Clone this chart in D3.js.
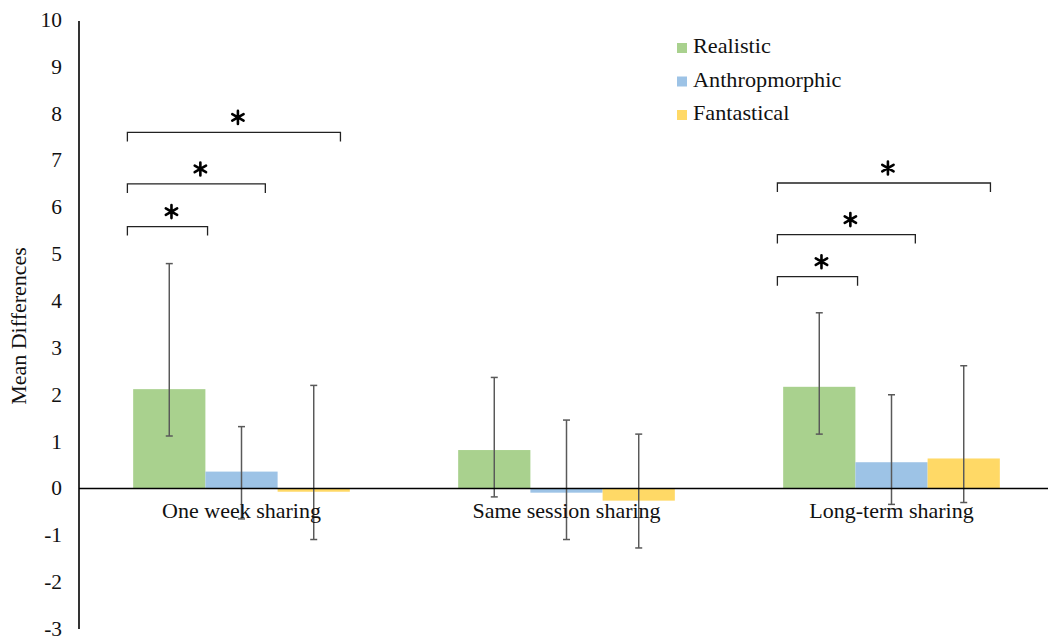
<!doctype html>
<html lang="en">
<head>
    <meta charset="UTF-8">
    <title>Mean Differences</title>
    <script src="https://cdnjs.cloudflare.com/ajax/libs/d3/7.8.5/d3.min.js"></script>
    <style>
        body { margin: 0; background: #fff; }
        text { font-family: "Liberation Serif", "Times New Roman", serif; fill: #111; }
    </style>
</head>
<body>
<svg id="chart" width="1048" height="639"></svg>

<script>
    // data
    var categories = ['One week sharing', 'Same session sharing', 'Long-term sharing'];
    var series = ['Realistic', 'Anthropmorphic', 'Fantastical'];
    var colors = ['#A9D18E', '#9DC3E6', '#FFD966'];

    var realistic = [2.12, 0.82, 2.17];
    var anthro = [0.36, -0.09, 0.56];
    var fantastical = [-0.07, -0.26, 0.64];

    var realisticLow = [1.12, -0.18, 1.16];
    var realisticHigh = [4.80, 2.37, 3.75];
    var anthroLow = [-0.65, -1.09, -0.34];
    var anthroHigh = [1.32, 1.46, 2.00];
    var fantasticalLow = [-1.09, -1.27, -0.30];
    var fantasticalHigh = [2.20, 1.16, 2.62];

    var yTicks = [-3, -2, -1, 0, 1, 2, 3, 4, 5, 6, 7, 8, 9, 10];

    // significance brackets (category index, height in y units)
    var bracketCat = [0, 0, 0, 2, 2, 2];
    var bracketLevel = [5.59, 6.50, 7.60, 4.52, 5.42, 6.52];

    var values = [realistic, anthro, fantastical];
    var lows = [realisticLow, anthroLow, fantasticalLow];
    var highs = [realisticHigh, anthroHigh, fantasticalHigh];

    var svg = d3.select('#chart');

    var y = d3.scaleLinear().domain([-3, 10]).range([629, 20]);
    var x0 = d3.scaleBand().domain(categories).range([79, 1054]);
    var bw = x0.bandwidth() / 4.5;
    var x1 = d3.scaleBand().domain(series).range([bw * 0.75, bw * 3.75]);

    // the original text is set a bit wider than Times, so stretch it horizontally
    function label(parent, x, yy, str, size, anchor, rot, sx) {
        return parent.append('text')
                .attr('transform', 'translate(' + x + ',' + yy + ')' + (rot ? ' rotate(' + rot + ')' : '') + ' scale(' + (sx || 1.1) + ',1)')
                .attr('text-anchor', anchor || 'start')
                .style('font-size', size + 'px')
                .text(str);
    }

    // y axis ticks
    var yAxis = d3.axisLeft(y).tickValues(yTicks).tickSize(0).tickPadding(0)
            .tickFormat(function (d) { return String(d); });
    var ga = svg.append('g').attr('transform', 'translate(79,0)').call(yAxis);
    ga.select('.domain').remove();
    ga.selectAll('text')
            .attr('x', 0)
            .attr('transform', 'translate(-17,0) scale(1.07,1)')
            .style('font-family', '"Liberation Serif", serif')
            .style('font-size', '20px')
            .attr('fill', '#111');

    svg.append('line')
            .attr('x1', 79).attr('x2', 79)
            .attr('y1', y(10) + 1).attr('y2', y(-3))
            .attr('stroke', '#000').attr('stroke-width', 1.6);

    label(svg, 26, 326, 'Mean Differences', 20, 'middle', -90);

    // bars
    var groups = svg.selectAll('g.cat')
            .data(categories)
            .enter().append('g')
            .attr('class', 'cat')
            .attr('transform', function (d) { return 'translate(' + x0(d) + ',0)'; });

    groups.each(function (c, ci) {
        var g = d3.select(this);
        series.forEach(function (s, si) {
            var v = values[si][ci];
            g.append('rect')
                    .attr('x', x1(s))
                    .attr('y', y(Math.max(0, v)))
                    .attr('width', x1.bandwidth())
                    .attr('height', Math.abs(y(v) - y(0)))
                    .attr('fill', colors[si]);
        });
    });

    // zero line
    svg.append('line')
            .attr('x1', 79).attr('x2', 1048)
            .attr('y1', y(0)).attr('y2', y(0))
            .attr('stroke', '#000').attr('stroke-width', 1.5);

    // category labels
    categories.forEach(function (c) {
        label(svg, x0(c) + x0.bandwidth() / 2, y(0) + 30, c, 20, 'middle');
    });

    // error bars
    groups.each(function (c, ci) {
        var g = d3.select(this);
        series.forEach(function (s, si) {
            var cx = x1(s) + x1.bandwidth() / 2;
            var lo = y(lows[si][ci]), hi = y(highs[si][ci]);
            g.append('line')
                    .attr('x1', cx).attr('x2', cx).attr('y1', lo).attr('y2', hi)
                    .attr('stroke', '#595959').attr('stroke-width', 1.5);
            [lo, hi].forEach(function (yy) {
                g.append('line')
                        .attr('x1', cx - 3.5).attr('x2', cx + 3.5).attr('y1', yy).attr('y2', yy)
                        .attr('stroke', '#595959').attr('stroke-width', 1.5);
            });
        });
    });

    // brackets: start just left of the Realistic bar, end inside the compared bars
    var bracketEnd = [1.03, 1.83, 2.87];
    var star = d3.symbol(d3.symbolAsterisk, 120);
    bracketLevel.forEach(function (lv, i) {
        var gx = x0(categories[bracketCat[i]]) + x1(series[0]);
        var xa = gx - bw * 0.08;
        var xb = gx + bw * bracketEnd[i % 3];
        var yy = y(lv);
        svg.append('path')
                .attr('d', 'M' + xa + ',' + (yy + 9) + 'V' + yy + 'H' + xb + 'V' + (yy + 9))
                .attr('fill', 'none')
                .attr('stroke', '#222')
                .attr('stroke-width', 1.3);
        svg.append('path')
                .attr('d', star())
                .attr('transform', 'translate(' + ((xa + xb) / 2 + 4) + ',' + (yy - 15) + ')')
                .attr('fill', 'none')
                .attr('stroke', '#000')
                .attr('stroke-width', 2.6)
                .attr('stroke-linecap', 'round');
    });

    // legend
    var legend = svg.append('g').attr('transform', 'translate(677,43)');
    series.forEach(function (s, i) {
        legend.append('rect')
                .attr('x', 0).attr('y', i * 33.5)
                .attr('width', 10).attr('height', 10)
                .attr('fill', colors[i]);
        label(legend, 16, i * 33.5 + 10, s, 21, 'start', 0, 1.06);
    });
</script>
</body>
</html>
